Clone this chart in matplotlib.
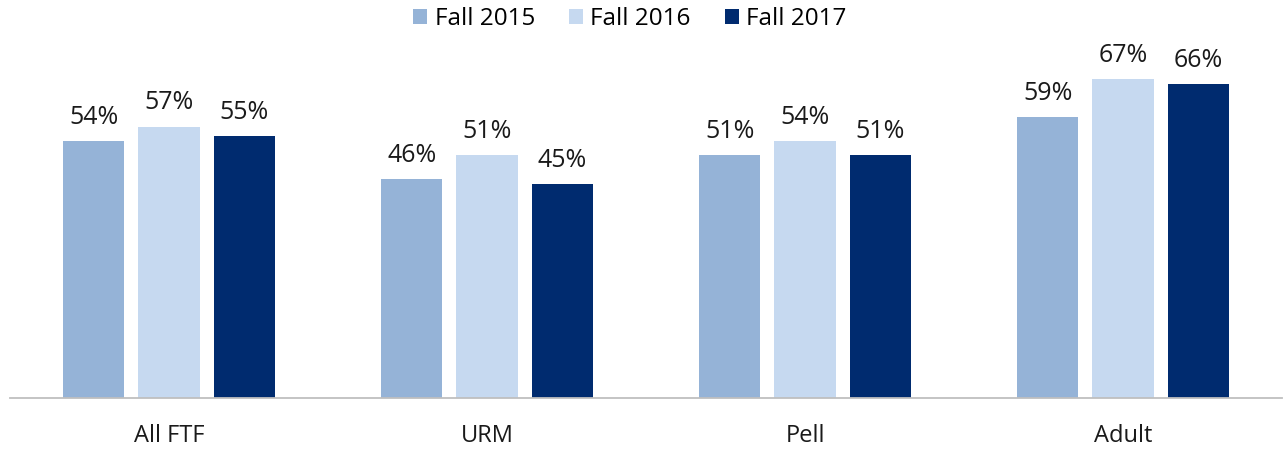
import matplotlib
matplotlib.use("Agg")
import matplotlib.pyplot as plt
import numpy as np

categories = ["All FTF", "URM", "Pell", "Adult"]
series_names = ["Fall 2015", "Fall 2016", "Fall 2017"]
fall2015 = [54, 46, 51, 59]
fall2016 = [57, 51, 54, 67]
fall2017 = [55, 45, 51, 66]
colors = ["#95B3D7", "#C6D9F0", "#002B6F"]

plt.rcParams['font.family'] = ['Open Sans', 'DejaVu Sans']

fig = plt.figure(figsize=(12.83, 4.49), dpi=100)
ax = fig.add_axes([10/1283, 51/449, 1272/1283, 381/449])

x = np.arange(len(categories))
width = 0.192
pitch = 0.236
for i, (vals, name, c) in enumerate(zip([fall2015, fall2016, fall2017], series_names, colors)):
    bars = ax.bar(x + (i - 1) * pitch, vals, width, color=c, label=name)
    for b, v in zip(bars, vals):
        ax.annotate(f"{v}%", (b.get_x() + b.get_width() / 2, v), xytext=(0, 8),
                    textcoords="offset points", ha="center", va="bottom",
                    fontsize=18, color="#1a1a1a")

ax.set_xlim(-0.5, len(categories) - 0.5)
ax.set_ylim(0, 80)
ax.set_xticks(x)
ax.set_xticklabels(categories, fontsize=17, color="#1a1a1a")
ax.tick_params(axis='x', length=0, pad=19)
ax.set_yticks([])
for s in ["top", "right", "left"]:
    ax.spines[s].set_visible(False)
ax.spines["bottom"].set_color("#BFBFBF")
ax.spines["bottom"].set_linewidth(1.3)

fig.legend(loc="center", bbox_to_anchor=(0.491, 1 - 19/449), ncol=3, frameon=False,
           fontsize=17.5, handlelength=0.58, handleheight=0.58, handletextpad=0.3,
           columnspacing=1.4)

fig.savefig("out.png", dpi=100)
